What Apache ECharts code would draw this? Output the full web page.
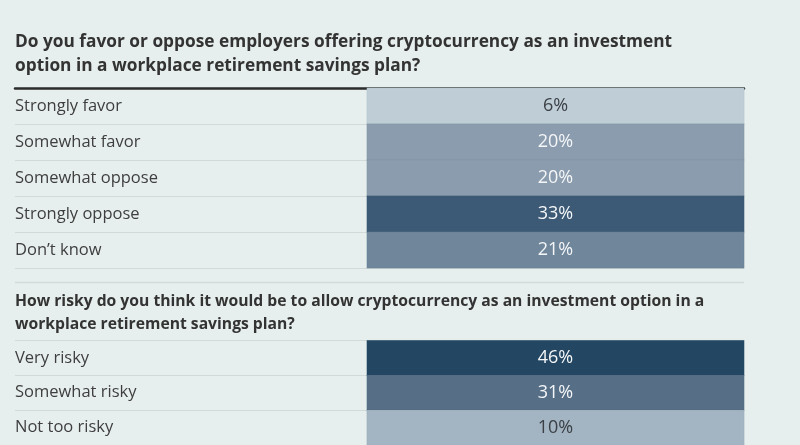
<!DOCTYPE html>
<html>
<head>
<meta charset="utf-8">
<script src="https://cdn.jsdelivr.net/npm/echarts@6/dist/echarts.min.js"></script>
<style>
html,body{margin:0;padding:0;background:#e7efee;}
#c{width:800px;height:445px;}
</style>
</head>
<body>
<div id="c"></div>
<script>
const title1 = "Do you favor or oppose employers offering cryptocurrency as an investment\noption in a workplace retirement savings plan?";
const title2 = "How risky do you think it would be to allow cryptocurrency as an investment option in a\nworkplace retirement savings plan?";
const categories1 = ["Strongly favor", "Somewhat favor", "Somewhat oppose", "Strongly oppose", "Don\u2019t know"];
const values1 = [6, 20, 20, 33, 21];
const categories2 = ["Very risky", "Somewhat risky", "Not too risky"];
const values2 = [46, 31, 10];

const FONT = "'Open Sans', 'Noto Sans', sans-serif";
const labelColor = '#3e3e3e';

function cells(vals) {
  return vals.map((v, i) => ({
    value: [0, i, v],
    label: { color: v < 12 ? '#3b4046' : '#f4f6f8' }
  }));
}

function lineYAxis(gridIndex, cats) {
  return {
    type: 'category', gridIndex, data: cats, inverse: true,
    axisLine: { show: false }, axisTick: { show: false },
    splitLine: { show: true, lineStyle: { color: '#d2dad9', width: 1 } },
    axisLabel: { inside: true, margin: 0, align: 'left', color: labelColor, fontSize: 16.5, fontFamily: FONT }
  };
}
function cellYAxis(gridIndex, cats) {
  return {
    type: 'category', gridIndex, data: cats, inverse: true,
    axisLine: { show: false }, axisTick: { show: false }, axisLabel: { show: false }, splitLine: { show: false }
  };
}

const chart = echarts.init(document.getElementById('c'), null, { renderer: 'canvas' });
chart.setOption({
  backgroundColor: '#e7efee',
  animation: false,
  title: [
    { text: title1, left: 15, top: 30, padding: 0, textStyle: { fontSize: 17.3, fontWeight: 'bold', color: '#333', lineHeight: 24, fontFamily: FONT } },
    { text: title2, left: 15, top: 290.5, padding: 0, textStyle: { fontSize: 15.7, fontWeight: 'bold', color: '#333', lineHeight: 23, fontFamily: FONT } }
  ],
  grid: [
    { left: 15, right: 56, top: 88, height: 180 },
    { left: 367, right: 56, top: 88, height: 180 },
    { left: 15, right: 56, top: 340.5, height: 109 },
    { left: 367, right: 56, top: 340.5, height: 109 }
  ],
  xAxis: [
    { type: 'value', gridIndex: 0, position: 'top', show: true, min: 0, max: 1,
      axisLine: { show: true, onZero: false, lineStyle: { color: '#2b2b2b', width: 2.5 } },
      axisTick: { show: false }, axisLabel: { show: false }, splitLine: { show: false } },
    { type: 'category', gridIndex: 1, data: [''], show: false },
    { type: 'value', gridIndex: 2, show: false, min: 0, max: 1 },
    { type: 'category', gridIndex: 3, data: [''], show: false }
  ],
  yAxis: [
    lineYAxis(0, categories1),
    cellYAxis(1, categories1),
    lineYAxis(2, categories2),
    cellYAxis(3, categories2)
  ],
  visualMap: {
    show: false, type: 'piecewise', dimension: 2, seriesIndex: [0, 1],
    pieces: [
      { lt: 8, color: '#bfcdd6' },
      { gte: 8, lt: 15, color: '#a3b4c2' },
      { gte: 15, lt: 20.5, color: '#8a9cad' },
      { gte: 20.5, lt: 25, color: '#6f869b' },
      { gte: 25, lt: 32, color: '#566f87' },
      { gte: 32, lt: 40, color: '#3c5a75' },
      { gte: 40, color: '#234763' }
    ]
  },
  graphic: [
    { type: 'line', shape: { x1: 15, y1: 282.5, x2: 744, y2: 282.5 }, style: { stroke: '#d2dad9', lineWidth: 1.5 } }
  ],
  series: [
    { type: 'heatmap', xAxisIndex: 1, yAxisIndex: 1, data: cells(values1),
      label: { show: true, formatter: p => p.value[2] + '%', fontSize: 18, fontFamily: FONT },
      itemStyle: { borderColor: 'rgba(40,60,80,0.06)', borderWidth: 1 }, emphasis: { disabled: true } },
    { type: 'heatmap', xAxisIndex: 3, yAxisIndex: 3, data: cells(values2),
      label: { show: true, formatter: p => p.value[2] + '%', fontSize: 18, fontFamily: FONT },
      itemStyle: { borderColor: 'rgba(40,60,80,0.06)', borderWidth: 1 }, emphasis: { disabled: true } }
  ]
});
</script>
</body>
</html>
